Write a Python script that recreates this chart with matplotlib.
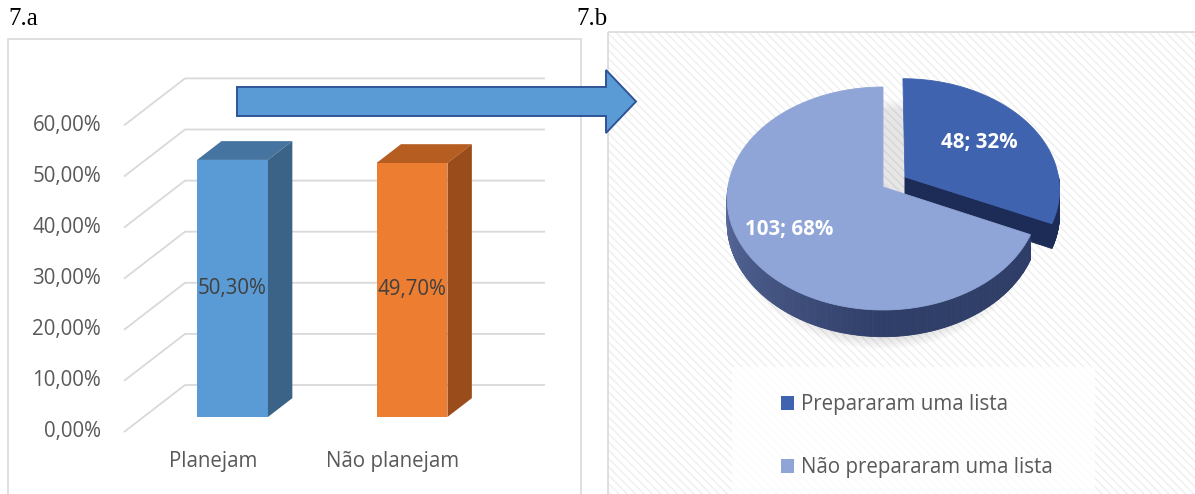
import numpy as np
import matplotlib
matplotlib.use("Agg")
import matplotlib.pyplot as plt
from matplotlib.patches import Polygon, Rectangle, Patch, Ellipse

# ---------------- data ----------------
bar_categories = ["Planejam", "Não planejam"]
bar_values = [50.30, 49.70]              # percent
y_ticks = [0, 10, 20, 30, 40, 50, 60]    # percent

pie_labels = ["Prepararam uma lista", "Não prepararam uma lista"]
pie_counts = [48, 103]

panel_titles = ["7.a", "7.b"]


def pct_text(v):
    return f"{v:.2f}%".replace(".", ",")


# ---------------- figure & fonts ----------------
W, H = 1195, 494
plt.rcParams["font.family"] = ["Open Sans", "DejaVu Sans"]
FS = 14.8
GREY_TXT = "#595959"

fig = plt.figure(figsize=(W / 100, H / 100), dpi=100)
fig.patch.set_facecolor("white")


def px_axes(x0, y0, x1, y1, **kw):
    """Axes placed by pixel box (top-left origin)."""
    return fig.add_axes([x0 / W, 1 - y1 / H, (x1 - x0) / W, (y1 - y0) / H], **kw)


# background layer: panel frames, hatched plot background
bg = px_axes(0, 0, W, H, zorder=0)
bg.set_xlim(0, W)
bg.set_ylim(H, 0)
bg.axis("off")
bg.add_patch(Rectangle((8.5, 39.5), 573, 480, fc="white", ec="#D9D9D9", lw=1.2))
bg.add_patch(Rectangle((608, 32), 620, 480, fc="white", ec="#EFEFEF", lw=0,
                       hatch="\\\\\\\\"))
bg.add_patch(Rectangle((608, 32), 620, 480, fill=False, ec="#D9D9D9", lw=1.2))
bg.add_patch(Rectangle((732, 367), 363, 140, fc="white", alpha=0.8, lw=0))

fig.text(8 / W, 1 - 19 / H, panel_titles[0], family=["Liberation Serif"],
         fontsize=18, va="center", ha="left", color="black")
fig.text(576 / W, 1 - 19 / H, panel_titles[1], family=["Liberation Serif"],
         fontsize=18, va="center", ha="left", color="black")

# ---------------- 7.a : 3-D column chart ----------------
PX_PER_CAT, PX_PER_PCT = 179.5, 5.11
CAT0_PX, FLOOR_ROW = 232.5, 432
DX = 61 / PX_PER_CAT          # depth shift in category units
DY = 47 / PX_PER_PCT          # depth shift in percent units
BAR_D0, BAR_D1 = 0.32, 0.72
BAR_W = 0.395

ax = px_axes(8, 39, 582, 494, zorder=1)
ax.set_xlim((8 - CAT0_PX) / PX_PER_CAT, (582 - CAT0_PX) / PX_PER_CAT)
ax.set_ylim((FLOOR_ROW - 494) / PX_PER_PCT, (FLOOR_ROW - 39) / PX_PER_PCT)
ax.axis("off")


def proj(x, d, v):
    return x + d * DX, v + d * DY


grid_x0 = (124 - CAT0_PX) / PX_PER_CAT
grid_x1 = (545 - CAT0_PX) / PX_PER_CAT - DX
label_x = (101 - CAT0_PX) / PX_PER_CAT
for t in y_ticks:
    pts = [proj(grid_x0, 0, t), proj(grid_x0, 1, t), proj(grid_x1, 1, t)]
    ax.plot(*zip(*pts), color="#D9D9D9", lw=1.3, zorder=1, solid_capstyle="butt")
    ax.text(label_x, t, pct_text(t), ha="right", va="center",
            fontsize=FS, color=GREY_TXT)

bar_styles = [("#5B9BD5", "#4574A1", "#3A6387"),
              ("#ED7D31", "#B65D21", "#9A4C1B")]
for i, (cat, val) in enumerate(zip(bar_categories, bar_values)):
    front, top, side = bar_styles[i]
    base = i - BAR_D0 * DX                      # category centre at depth 0
    xl, xr = base - BAR_W / 2, base + BAR_W / 2
    # front face
    ax.bar(i, val, width=BAR_W, bottom=BAR_D0 * DY, color=front, zorder=3)
    # top face
    ax.add_patch(Polygon([proj(xl, BAR_D0, val), proj(xr, BAR_D0, val),
                          proj(xr, BAR_D1, val), proj(xl, BAR_D1, val)],
                         closed=True, fc=top, ec="none", zorder=3))
    # side face
    ax.add_patch(Polygon([proj(xr, BAR_D0, 0), proj(xr, BAR_D0, val),
                          proj(xr, BAR_D1, val), proj(xr, BAR_D1, 0)],
                         closed=True, fc=side, ec="none", zorder=3))
    ax.text(i, BAR_D0 * DY + val / 2, pct_text(val), ha="center", va="center",
            fontsize=FS, color="#404040", zorder=4)
    ax.text(base, (FLOOR_ROW - 461) / PX_PER_PCT, cat, ha="center", va="center",
            fontsize=FS, color=GREY_TXT)

# ---------------- 7.b : 3-D exploded pie ----------------
PIE_CX, PIE_CY = 883, 187          # pixel position of the pie centre
RX, RY = 155, 110.3                # pixel radii
PERSP = 0.103
DEPTH = 24 / RY
EXPLODE = [0.17, 0.0]
LABEL_R = [0.60, 0.69]

pax = px_axes(608, 32, W, H, zorder=2)
pax.set_xlim((608 - PIE_CX) / RX, (W - PIE_CX) / RX)
pax.set_ylim((PIE_CY - H) / RY, (PIE_CY - 32) / RY)
pax.axis("off")


def pproj(u, v):
    s = 1.0 / (1.0 + PERSP * v)
    return u * s, v * s, s


total = sum(pie_counts)
fracs = [c / total for c in pie_counts]
top_colors = ["#3F63AF", "#8FA5D7"]
side_dark = ["#1D2C57", "#2F3E68"]
side_light = ["#2A3B6C", "#5C6DA0"]

# slice angle ranges (counter-clockwise t0 -> t1), starting at 90 deg going clockwise
spans = []
a = 90.0
for f in fracs:
    spans.append((a - 360 * f, a))
    a -= 360 * f

# soft shadow beneath the pie
for k in range(5):
    pax.add_patch(Ellipse((0.0, -0.12 - DEPTH), 1.80 + 0.04 * k, 2.10 + 0.04 * k,
                          fc="#000000", alpha=0.02, lw=0, zorder=1))

order = sorted(range(len(fracs)),
               key=lambda j: -np.sin(np.radians((spans[j][0] + spans[j][1]) / 2)))
for j in order:
    t0, t1 = spans[j]
    mid = np.radians((t0 + t1) / 2)
    ox, oy = EXPLODE[j] * np.cos(mid), EXPLODE[j] * np.sin(mid)
    zb = 3 + 3 * order.index(j)
    c_lo = np.array(matplotlib.colors.to_rgb(side_light[j]))
    c_hi = np.array(matplotlib.colors.to_rgb(side_dark[j]))

    # outer wall (front half only), shaded from left to right
    th = np.linspace(t0, t1, 400)
    th = th[np.sin(np.radians(th)) < 0.0]
    for k in range(len(th) - 1):
        a0, a1 = np.radians(th[k]), np.radians(th[k + 1])
        pts_t = [pproj(ox + np.cos(q), oy + np.sin(q)) for q in (a0, a1)]
        poly = [(p[0], p[1]) for p in pts_t] + \
               [(p[0], p[1] - DEPTH * p[2]) for p in pts_t[::-1]]
        lam = np.clip((np.degrees((a0 + a1) / 2) % 360 - 180) / 90, 0, 1)
        col = c_hi * lam + c_lo * (1 - lam)
        pax.add_patch(Polygon(poly, closed=True, fc=col, ec=col, lw=0.6, zorder=zb))

    # radial faces turned toward the viewer
    for te, sign in ((t0, -1), (t1, 1)):
        nrm = np.radians(te + sign * 90)
        if np.sin(nrm) < -0.05:
            q = np.radians(te)
            c = pproj(ox, oy)
            r = pproj(ox + np.cos(q), oy + np.sin(q))
            poly = [(c[0], c[1]), (r[0], r[1]), (r[0], r[1] - DEPTH * r[2]),
                    (c[0], c[1] - DEPTH * c[2])]
            pax.add_patch(Polygon(poly, closed=True, fc=side_dark[0], ec=side_dark[0],
                                  lw=0.6, zorder=zb + 1))

    # top face
    th = np.radians(np.linspace(t0, t1, 400))
    pts = [pproj(ox, oy)] + [pproj(ox + np.cos(q), oy + np.sin(q)) for q in th]
    pax.add_patch(Polygon([(p[0], p[1]) for p in pts], closed=True,
                          fc=top_colors[j], ec=top_colors[j], lw=0.6, zorder=zb + 2))

    # data label
    lr = LABEL_R[j] + EXPLODE[j]
    lx, ly, _ = pproj(lr * np.cos(mid), lr * np.sin(mid))
    pax.text(lx, ly, f"{pie_counts[j]}; {round(100 * fracs[j])}%", ha="center",
             va="center", fontsize=FS, fontweight="bold", color="white",
             zorder=zb + 3)

handles = [Patch(fc=c, ec="none") for c in top_colors]
pax.legend(handles, pie_labels, loc="upper left",
           bbox_to_anchor=(781 / W, 1 - 394 / H), bbox_transform=fig.transFigure,
           frameon=False, fontsize=FS, handlelength=0.65, handleheight=0.65,
           handletextpad=0.3, labelspacing=2.05, borderpad=0, borderaxespad=0,
           labelcolor=GREY_TXT)

# ---------------- connecting arrow ----------------
ov = px_axes(0, 0, W, H, zorder=10)
ov.set_xlim(0, W)
ov.set_ylim(H, 0)
ov.axis("off")
ov.patch.set_alpha(0)
arrow = [(237, 87), (606, 87), (606, 70), (636, 101.5), (606, 133),
         (606, 116), (237, 116)]
ov.add_patch(Polygon(arrow, closed=True, fc="#5B9BD5", ec="#2F5597", lw=1.4,
                     joinstyle="miter"))

fig.savefig("out.png", dpi=100, facecolor="white")
